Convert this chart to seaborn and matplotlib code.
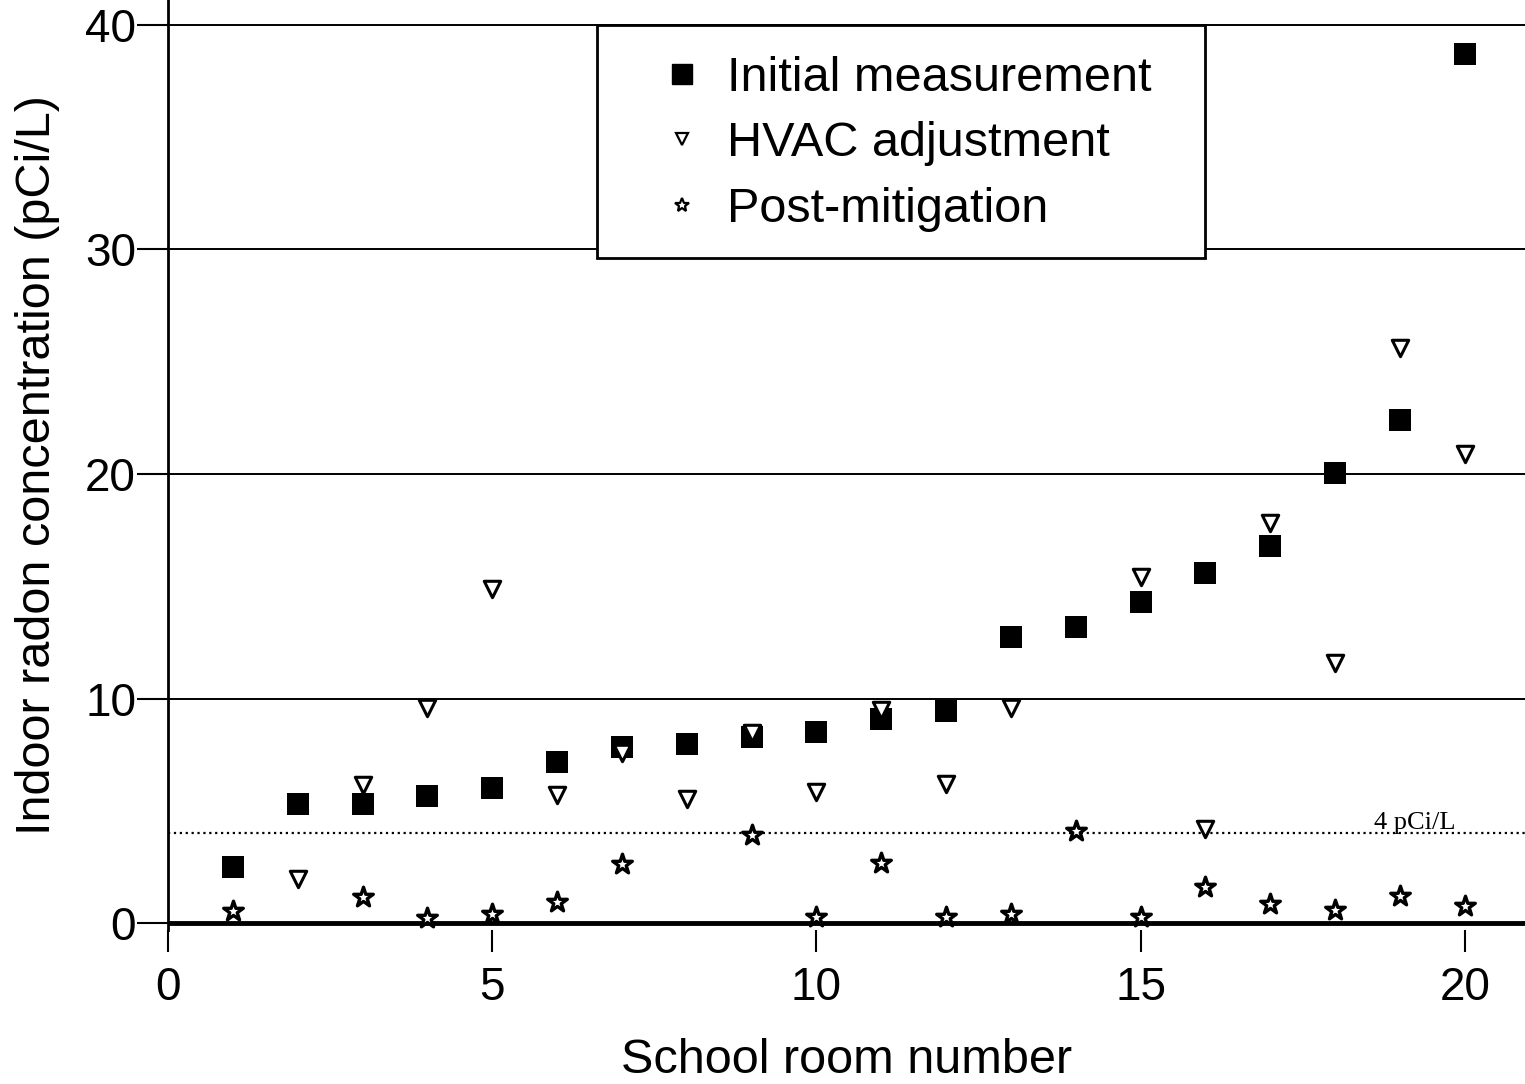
import numpy as np
import pandas as pd
import matplotlib
matplotlib.use("Agg")
import matplotlib.pyplot as plt
from matplotlib.lines import Line2D
from matplotlib.patches import Rectangle
import seaborn as sns

rooms = list(range(1, 21))
initial = [2.5, 5.3, 5.3, 5.65, 6.0, 7.2, 7.85, 8.0, 8.3, 8.5,
           9.1, 9.45, 12.75, 13.2, 14.3, 15.6, 16.8, 20.05, 22.4, 38.7]
hvac = [np.nan, 1.95, 6.15, 9.6, 14.9, 5.7, 7.6, 5.55, 8.45, 5.85,
        9.5, 6.2, 9.6, np.nan, 15.4, 4.2, 17.8, 11.6, 25.6, 20.9]
post = [0.53, np.nan, 1.15, 0.25, 0.4, 0.95, 2.65, np.nan, 3.95, 0.27,
        2.7, 0.3, 0.43, 4.1, 0.27, 1.6, 0.85, 0.58, 1.2, 0.76]
action_level = 4

df = pd.DataFrame({"room": rooms, "initial": initial, "hvac": hvac, "post": post})

sns.set_theme(style="white")
plt.rcParams["font.family"] = ["Liberation Sans", "DejaVu Sans"]
plt.rcParams["text.color"] = "black"
plt.rcParams["axes.labelcolor"] = "black"
plt.rcParams["xtick.color"] = "black"
plt.rcParams["ytick.color"] = "black"

fig = plt.figure(figsize=(15.25, 10.84), dpi=100)
ax = fig.add_axes([168 / 1525, 1 - 930 / 1084, 1 - 168 / 1525, 930 / 1084])

sns.scatterplot(data=df, x="room", y="initial", marker="s", s=240, color="black",
                edgecolor="black", linewidth=0, ax=ax, zorder=4)
sns.scatterplot(data=df, x="room", y="hvac", marker="v", s=140, facecolor="white",
                edgecolor="black", linewidth=2.2, ax=ax, zorder=5)
sns.scatterplot(data=df, x="room", y="post", marker="*", s=220, facecolor="white",
                edgecolor="black", linewidth=2.4, ax=ax, zorder=5)

for yv in [10, 20, 30, 40]:
    ax.axhline(yv, color="black", lw=1.4, zorder=1)
ax.axhline(0, color="black", lw=3.5, zorder=3)
ax.axhline(action_level, color="black", lw=1.6, ls=":", zorder=2)
ax.text(19.23, action_level + 0.45, "4 pCi/L", family="Liberation Serif",
        fontsize=19, ha="center", va="center", color="black")

ax.set_xlim(0, 20.93)
ax.set_ylim(-0.3, 41.1)
ax.set_xticks([0, 5, 10, 15, 20])
ax.set_yticks([0, 10, 20, 30, 40])
ax.tick_params(axis="both", labelsize=33, color="black", width=1.5)
ax.tick_params(axis="x", direction="out", length=16, pad=10, bottom=True)
ax.tick_params(axis="y", direction="out", length=22, pad=1, left=True)
for side in ["top", "right", "bottom"]:
    ax.spines[side].set_visible(False)
ax.spines["left"].set_color("black")
ax.spines["left"].set_linewidth(2)

ax.set_xlabel("School room number", fontsize=35, labelpad=20)
ax.set_ylabel("Indoor radon concentration (pCi/L)", fontsize=35, labelpad=18)

# legend box drawn separately so its padding can match the original
box = Rectangle((597 / 1525, 1 - 258 / 1084), (1205 - 597) / 1525, (258 - 25) / 1084,
                transform=fig.transFigure, facecolor="white", edgecolor="black",
                linewidth=2, zorder=9)
ax.add_patch(box)
box.set_clip_on(False)

handles = [
    Line2D([], [], ls="none", marker="s", ms=14, color="black"),
    Line2D([], [], ls="none", marker="v", ms=8, mfc="white", mec="black", mew=1.6),
    Line2D([], [], ls="none", marker="*", ms=10, mfc="white", mec="black", mew=1.6),
]
labels = ["Initial measurement", "HVAC adjustment", "Post-mitigation"]
leg = ax.legend(handles, labels, loc="upper left", bbox_to_anchor=(660 / 1525, 1 - 56 / 1084),
                bbox_transform=fig.transFigure, borderaxespad=0, borderpad=0, fontsize=35,
                frameon=False, handlelength=0.9, handletextpad=0.47, labelspacing=0.42)
leg.set_zorder(10)

fig.savefig("out.png", dpi=100)
